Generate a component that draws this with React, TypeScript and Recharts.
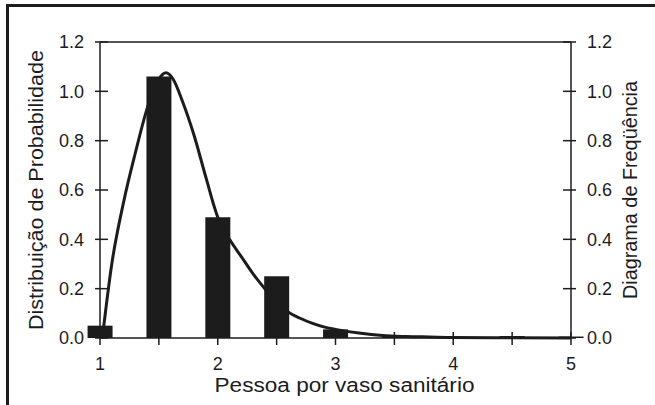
import { ComposedChart, Bar, Line, XAxis, YAxis, ReferenceLine } from "recharts";

// frequency histogram (right axis)
const barX = [1, 1.5, 2, 2.5, 3, 3.5, 4, 4.5, 5];
const barFreq = [0.05, 1.06, 0.49, 0.25, 0.035, 0.006, 0, 0.008, 0.006];

// probability density curve (left axis)
const curveX = [
  1.02, 1.1, 1.2, 1.3, 1.4, 1.5, 1.56, 1.62, 1.7, 1.8, 1.9, 2.0, 2.1, 2.2, 2.3,
  2.4, 2.5, 2.6, 2.7, 2.8, 2.9, 3.0, 3.2, 3.4, 3.6, 3.8, 4.0, 4.5, 5.0,
];
const curveProb = [
  0, 0.3, 0.55, 0.75, 0.93, 1.05, 1.075, 1.05, 0.96, 0.82, 0.65, 0.49, 0.4, 0.33,
  0.26, 0.2, 0.15, 0.105, 0.08, 0.06, 0.045, 0.035, 0.02, 0.01, 0.006, 0.004,
  0.002, 0.001, 0,
];

const xTicks = [1, 1.5, 2, 2.5, 3, 3.5, 4, 4.5, 5];
const yTicks = [0, 0.2, 0.4, 0.6, 0.8, 1.0, 1.2];

const barData = barX.map((x, i) => ({ x, freq: barFreq[i] }));
const curveData = curveX.map((x, i) => ({ x, prob: curveProb[i] }));

const INK = "#1c1c1c";
const FONT = "'Liberation Sans', Arial, Helvetica, sans-serif";
const TICK_SIZE = 6;
const Y_MARGIN = 10;
const X_MARGIN = 13;
const TICK_FONT = 18;
const TITLE_FONT = 20;

function LeftTick(props: any) {
  const { x, y, payload } = props;
  const axisX = x + TICK_SIZE + Y_MARGIN;
  return (
    <g>
      <line x1={axisX - 5} x2={axisX + 8} y1={y} y2={y} stroke={INK} strokeWidth={1.5} />
      <text x={x} y={y} dy="0.36em" textAnchor="end" fontSize={TICK_FONT} fontFamily={FONT} fill={INK}>
        {Number(payload.value).toFixed(1)}
      </text>
    </g>
  );
}

function RightTick(props: any) {
  const { x, y, payload } = props;
  const axisX = x - TICK_SIZE - Y_MARGIN;
  return (
    <g>
      <line x1={axisX - 8} x2={axisX + 5} y1={y} y2={y} stroke={INK} strokeWidth={1.5} />
      <text x={x} y={y} dy="0.36em" textAnchor="start" fontSize={TICK_FONT} fontFamily={FONT} fill={INK}>
        {Number(payload.value).toFixed(1)}
      </text>
    </g>
  );
}

function BottomTick(props: any) {
  const { x, y, payload } = props;
  const axisY = y - TICK_SIZE - X_MARGIN;
  const v = Number(payload.value);
  return (
    <g>
      <line x1={x} x2={x} y1={axisY - 6} y2={axisY + 7} stroke={INK} strokeWidth={1.5} />
      {Number.isInteger(v) && (
        <text x={x} y={y} dy="0.71em" textAnchor="middle" fontSize={TICK_FONT} fontFamily={FONT} fill={INK}>
          {v}
        </text>
      )}
    </g>
  );
}

function VerticalTitle({ viewBox, value, dx, length }: any) {
  const cx = viewBox.x + dx;
  const cy = viewBox.y + viewBox.height / 2;
  return (
    <text
      x={cx}
      y={cy}
      transform={`rotate(-90 ${cx} ${cy})`}
      textAnchor="middle"
      dy="0.36em"
      fontSize={TITLE_FONT}
      fontFamily={FONT}
      fill={INK}
      textLength={length}
      lengthAdjust="spacingAndGlyphs"
    >
      {value}
    </text>
  );
}

function BottomTitle({ viewBox, value }: any) {
  return (
    <text
      x={viewBox.x + viewBox.width / 2 + 9}
      y={viewBox.y + 54}
      textAnchor="middle"
      fontSize={TITLE_FONT}
      fontFamily={FONT}
      fill={INK}
      textLength={260}
      lengthAdjust="spacingAndGlyphs"
    >
      {value}
    </text>
  );
}

export default function App() {
  return (
    <div style={{ position: "absolute", left: 0, top: 0, width: 655, height: 405, background: "#fff" }}>
      <div
        style={{
          position: "absolute",
          left: 6,
          top: 4,
          width: 660,
          height: 410,
          borderLeft: `3px solid ${INK}`,
          borderTop: `3px solid ${INK}`,
        }}
      />
      <ComposedChart
        width={655}
        height={405}
        data={barData}
        margin={{ top: 42, right: 0, left: 0, bottom: 0 }}
        style={{ position: "absolute", left: 0, top: 0 }}
      >
        <XAxis
          xAxisId="bars"
          dataKey="x"
          type="number"
          domain={[1, 5]}
          ticks={xTicks}
          allowDecimals
          height={67}
          tickLine={false}
          tickSize={TICK_SIZE}
          tickMargin={X_MARGIN}
          tick={<BottomTick />}
          axisLine={{ stroke: INK, strokeWidth: 1.5 }}
          label={<BottomTitle value="Pessoa por vaso sanitário" />}
        />
        <XAxis xAxisId="curve" dataKey="x" type="number" domain={[1, 5]} hide />
        <YAxis
          yAxisId="left"
          domain={[0, 1.2]}
          ticks={yTicks}
          width={100}
          tickLine={false}
          tickSize={TICK_SIZE}
          tickMargin={Y_MARGIN}
          tick={<LeftTick />}
          axisLine={{ stroke: INK, strokeWidth: 1.5 }}
          label={<VerticalTitle value="Distribuição de Probabilidade" dx={36} length={280} />}
        />
        <YAxis
          yAxisId="right"
          orientation="right"
          domain={[0, 1.2]}
          ticks={yTicks}
          width={84}
          tickLine={false}
          tickSize={TICK_SIZE}
          tickMargin={Y_MARGIN}
          tick={<RightTick />}
          axisLine={{ stroke: INK, strokeWidth: 1.5 }}
          label={<VerticalTitle value="Diagrama de Freqüência" dx={59} length={218} />}
        />
        <ReferenceLine xAxisId="bars" yAxisId="left" y={1.2} stroke={INK} strokeWidth={1.5} />
        <Bar
          xAxisId="bars"
          yAxisId="right"
          dataKey="freq"
          fill={INK}
          barSize={25}
          isAnimationActive={false}
        />
        <Line
          xAxisId="curve"
          yAxisId="left"
          data={curveData}
          dataKey="prob"
          type="monotone"
          stroke={INK}
          strokeWidth={3}
          dot={false}
          activeDot={false}
          isAnimationActive={false}
        />
      </ComposedChart>
    </div>
  );
}
